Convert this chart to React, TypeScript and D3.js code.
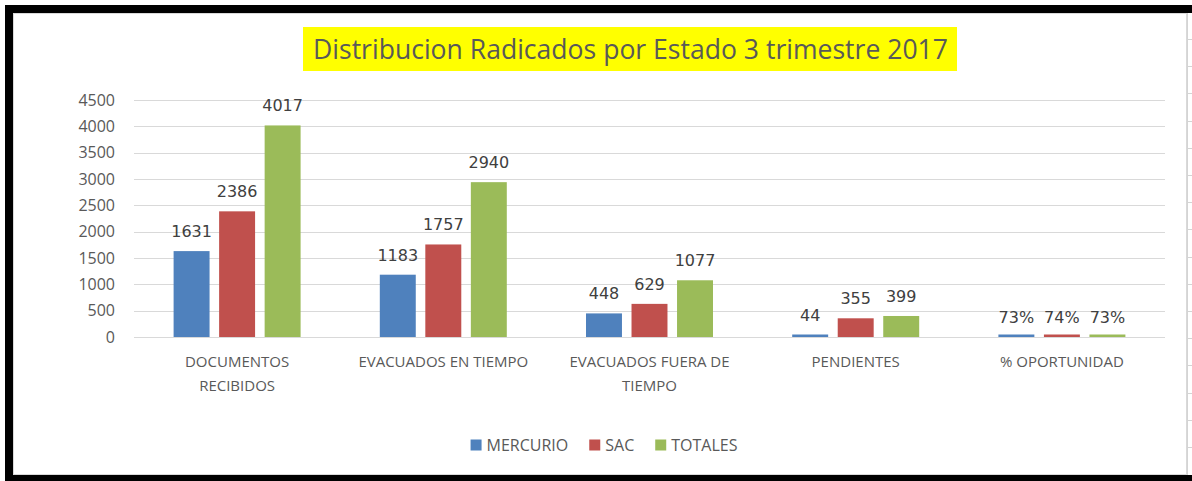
import React, { useRef, useEffect } from 'react';
import * as d3 from 'd3';

const categories = [
  'DOCUMENTOS RECIBIDOS',
  'EVACUADOS EN TIEMPO',
  'EVACUADOS FUERA DE TIEMPO',
  'PENDIENTES',
  '% OPORTUNIDAD',
];
const seriesNames = ['MERCURIO', 'SAC', 'TOTALES'];
const mercurio = [1631, 1183, 448, 44, 0.73];
const sac = [2386, 1757, 629, 355, 0.74];
const totales = [4017, 2940, 1077, 399, 0.73];
const yTicks = [0, 500, 1000, 1500, 2000, 2500, 3000, 3500, 4000, 4500];
const title = 'Distribucion Radicados por Estado 3 trimestre 2017';

const colors = ['#4f81bd', '#c0504d', '#9bbb59'];
const font = "'Open Sans', 'Noto Sans', sans-serif";

export default function App() {
  const svgEl = useRef<SVGSVGElement>(null);

  useEffect(() => {
    const W = 1192;
    const H = 481;
    const svg = d3.select(svgEl.current);
    svg.selectAll('*').remove();

    // sheet background + frame
    svg.append('rect').attr('width', W).attr('height', H).attr('fill', '#fff');
    const sheet = svg.append('g');
    sheet
      .append('line')
      .attr('x1', 1187.5)
      .attr('x2', 1187.5)
      .attr('y1', 13)
      .attr('y2', 476)
      .attr('stroke', '#d4d4d4');
    sheet
      .selectAll('line.row')
      .data(d3.range(39, 470, 27.2))
      .enter()
      .append('line')
      .attr('class', 'row')
      .attr('x1', 1188)
      .attr('x2', W)
      .attr('y1', (d) => Math.round(d) + 0.5)
      .attr('y2', (d) => Math.round(d) + 0.5)
      .attr('stroke', '#d4d4d4');

    svg
      .append('rect')
      .attr('x', 13.5)
      .attr('y', 13.5)
      .attr('width', 1173)
      .attr('height', 461)
      .attr('fill', 'none')
      .attr('stroke', '#d9d9d9');
    svg.append('rect').attr('x', 5).attr('y', 5).attr('width', W - 5).attr('height', 8).attr('fill', '#000');
    svg.append('rect').attr('x', 5).attr('y', 5).attr('width', 8).attr('height', H - 5).attr('fill', '#000');
    svg.append('rect').attr('x', 5).attr('y', 475).attr('width', W - 5).attr('height', 6).attr('fill', '#000');

    // title
    svg.append('rect').attr('x', 303).attr('y', 27).attr('width', 654).attr('height', 44).attr('fill', '#ffff00');
    svg
      .append('text')
      .attr('x', 630.5)
      .attr('y', 59)
      .attr('text-anchor', 'middle')
      .attr('font-family', font)
      .attr('font-size', 27)
      .attr('fill', '#595959')
      .attr('textLength', 635)
      .attr('lengthAdjust', 'spacingAndGlyphs')
      .text(title);

    // scales
    const yScale = d3.scaleLinear().domain([0, 4500]).range([337, 100]);
    const x0 = d3.scaleBand().domain(categories).range([134, 1165]);
    const x1 = d3
      .scaleBand()
      .domain(seriesNames)
      .range([0, x0.bandwidth()])
      .paddingInner(0.21)
      .paddingOuter(0.87);

    // grid + y labels
    const grid = svg.append('g');
    grid
      .selectAll('line')
      .data(yTicks)
      .enter()
      .append('line')
      .attr('x1', 134)
      .attr('x2', 1165)
      .attr('y1', (d) => Math.round(yScale(d)) + 0.5)
      .attr('y2', (d) => Math.round(yScale(d)) + 0.5)
      .attr('stroke', '#d9d9d9');
    grid
      .selectAll('text')
      .data(yTicks)
      .enter()
      .append('text')
      .attr('x', 115)
      .attr('y', (d) => yScale(d))
      .attr('dy', '0.35em')
      .attr('text-anchor', 'end')
      .attr('font-family', font)
      .attr('font-size', 16)
      .attr('fill', '#595959')
      .text((d) => d);

    // bars
    const allSeries = [mercurio, sac, totales];
    const fmt = (v: number) => (v < 1 ? d3.format('.0%')(v) : String(v));
    allSeries.forEach((vals, si) => {
      const g = svg.append('g');
      const rows = categories.map((c, i) => ({ c, v: vals[i] }));
      g.selectAll('rect')
        .data(rows)
        .enter()
        .append('rect')
        .attr('x', (d) => x0(d.c)! + x1(seriesNames[si])!)
        .attr('width', x1.bandwidth())
        .attr('y', (d) => yScale(0) - Math.max(yScale(0) - yScale(d.v), 2.5))
        .attr('height', (d) => Math.max(yScale(0) - yScale(d.v), 2.5))
        .attr('fill', colors[si]);
      g.selectAll('text')
        .data(rows)
        .enter()
        .append('text')
        .attr('x', (d) => x0(d.c)! + x1(seriesNames[si])! + x1.bandwidth() / 2)
        .attr('y', (d) => yScale(d.v) - 14)
        .attr('text-anchor', 'middle')
        .attr('font-family', "'DejaVu Sans', sans-serif")
        .attr('font-size', 16)
        .attr('fill', '#404040')
        .text((d) => fmt(d.v));
    });

    // category labels, wrapped
    const xl = svg.append('g');
    categories.forEach((c) => {
      const t = xl
        .append('text')
        .attr('text-anchor', 'middle')
        .attr('font-family', font)
        .attr('font-size', 15)
        .attr('fill', '#595959');
      const words = c.split(' ');
      const lines: string[] = [];
      let cur = '';
      const probe = xl.append('text').attr('font-family', font).attr('font-size', 15);
      words.forEach((w) => {
        const test = cur ? cur + ' ' + w : w;
        probe.text(test);
        if ((probe.node() as SVGTextElement).getComputedTextLength() > 178 && cur) {
          lines.push(cur);
          cur = w;
        } else cur = test;
      });
      lines.push(cur);
      probe.remove();
      lines.forEach((ln, i) => {
        t.append('tspan')
          .attr('x', x0(c)! + x0.bandwidth() / 2)
          .attr('y', 367 + i * 24)
          .text(ln);
      });
    });

    // legend
    const leg = svg.append('g');
    const items = seriesNames.map((n, i) => {
      const gi = leg.append('g');
      gi.append('rect').attr('width', 11).attr('height', 11).attr('y', -5.5).attr('fill', colors[i]);
      const tx = gi
        .append('text')
        .attr('x', 16)
        .attr('dy', '0.35em')
        .attr('font-family', font)
        .attr('font-size', 16)
        .attr('fill', '#595959')
        .text(n);
      return { gi, w: 16 + (tx.node() as SVGTextElement).getComputedTextLength() };
    });
    const gap = 21;
    const total = d3.sum(items, (d) => d.w) + gap * (items.length - 1);
    let lx = 604 - total / 2;
    items.forEach((it) => {
      it.gi.attr('transform', `translate(${lx},445)`);
      lx += it.w + gap;
    });
  }, []);

  return (
    <svg
      ref={svgEl}
      width={1192}
      height={481}
      style={{ position: 'absolute', left: 0, top: 0, display: 'block' }}
    ></svg>
  );
}
